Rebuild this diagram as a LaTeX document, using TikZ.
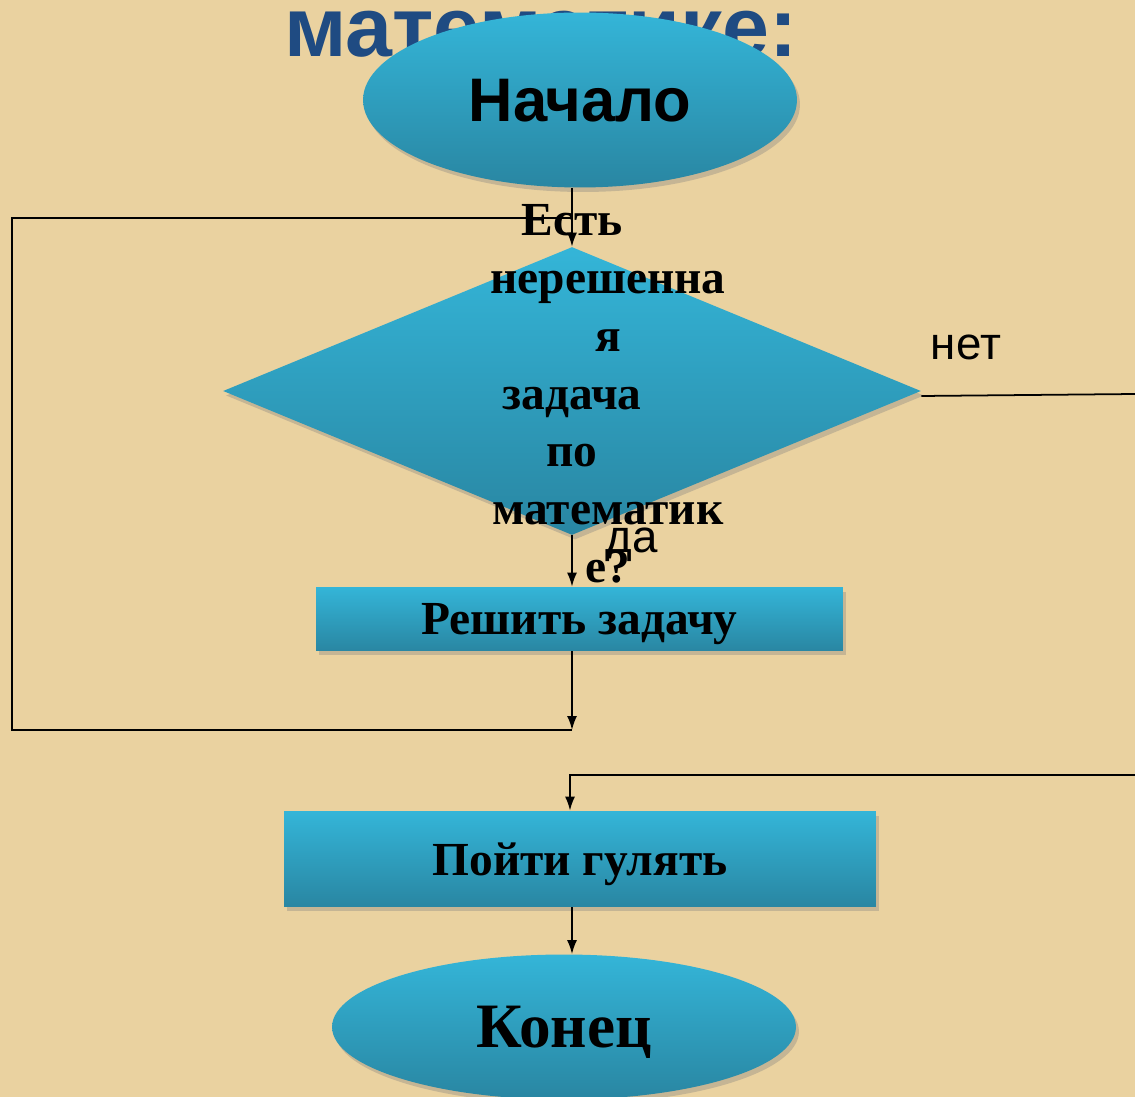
\documentclass[tikz,border=0pt]{standalone}
\usepackage{fontspec}
\setmainfont{Liberation Serif}
\setsansfont{Liberation Sans}
\usetikzlibrary{shapes.geometric, shadows, arrows.meta}
\definecolor{paper}{RGB}{234,210,160}
\definecolor{cyanT}{RGB}{52,181,216}
\definecolor{cyanB}{RGB}{41,134,162}
\definecolor{titleblue}{RGB}{31,75,130}

\begin{document}
\begin{tikzpicture}[x=0.02cm, y=-0.02cm, >={Latex[length=2.8mm,width=2mm]},
    flow/.style={draw=none, top color=cyanT, bottom color=cyanB, inner sep=0pt, text depth=0pt,
      drop shadow={opacity=0.35, shadow xshift=0.6mm, shadow yshift=-0.9mm}},
    term/.style={flow, ellipse},
    proc/.style={flow, rectangle, font=\bfseries\fontsize{27}{30}\selectfont},
    line/.style={line width=1pt},
    lbl/.style={inner sep=0pt, font=\sffamily\fontsize{26}{30}\selectfont}]
        \clip (0,0) rectangle (1135,1097);
        \fill[paper] (0,0) rectangle (1135,1097);

        \node (title) at (541,57) [anchor=base, inner sep=0pt, text=titleblue, font=\sffamily\bfseries\fontsize{48}{52}\selectfont] {математике:};
        \node (start) at (580,100) [term, minimum width=8.68cm, minimum height=3.5cm, font=\sffamily\bfseries\fontsize{35}{40}\selectfont] {Начало};
        \node (dec) at (572,391) [flow, diamond, minimum width=13.96cm, minimum height=5.76cm] {};
        \node (solve) at (579.5,619) [proc, minimum width=10.54cm, minimum height=1.28cm] {Решить задачу};
        \node (walk) at (580,859) [proc, minimum width=11.84cm, minimum height=1.92cm] {Пойти гулять};
        \node (end) at (564,1027) [term, minimum width=9.28cm, minimum height=2.9cm, font=\bfseries\fontsize{36}{40}\selectfont] {Конец};

        \coordinate (back) at (572,730);
        \coordinate (top) at (572,218);
        \coordinate (exitR) at (1135,394);
        \coordinate (turnR) at (1135,775);
        \coordinate (turnL) at (570,775);

        \draw[line,->] (start.south -| dec.north) -- (dec.north);
        \draw[line,->] (dec.south) -- (dec.south |- solve.north);
        \draw[line,->] (solve.south -| dec.south) -- (back);
        \draw[line] (back) -- ++(-560,0) |- (top);
        \draw[line] (dec.east) ++(0,5) -- (exitR);
        \draw[line,->] (turnR) -- (turnL) -- (turnL |- walk.north);
        \draw[line,->] (walk.south -| dec.south) -- (dec.south |- end.north);

        \node (q) at (608,394) [inner sep=0pt, align=center, font=\bfseries\fontsize{27}{32.9}\selectfont] {Есть\kern1.44cm\\нерешенна\\я\\задача\kern1.44cm\\по\kern1.44cm\\математик\\е?};
        \node (yes) at (632,545) [lbl] {да};
        \node (no) at (966,347) [lbl] {нет};
\end{tikzpicture}
\end{document}
